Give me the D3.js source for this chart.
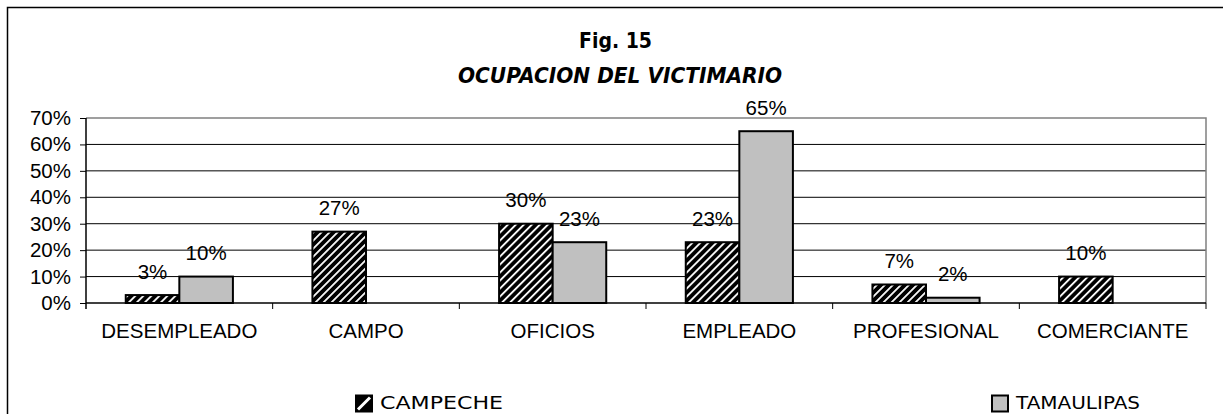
<!DOCTYPE html>
<html><head><meta charset="utf-8">
<script src="https://cdn.jsdelivr.net/npm/d3@7"></script>
<style>body{margin:0;background:#fff}svg{display:block}</style>
</head><body>
<svg id="c" width="1223" height="414"></svg>
<script>
const categories = ["DESEMPLEADO","CAMPO","OFICIOS","EMPLEADO","PROFESIONAL","COMERCIANTE"];
const seriesNames = ["CAMPECHE","TAMAULIPAS"];
const campeche = [0.03,0.27,0.30,0.23,0.07,0.10];
const tamaulipas = [0.10,0,0.23,0.65,0.02,0];
const campecheLabels = ["3%","27%","30%","23%","7%","10%"];
const tamaulipasLabels = ["10%","","23%","65%","2%",""];
const yTicks = [0,0.1,0.2,0.3,0.4,0.5,0.6,0.7];

(function(){
const svg = d3.select("#c");
const pLeft = 86, pRight = 1206, pTop = 118, pBottom = 303;
const labelFont = "'Liberation Sans', Arial, sans-serif";
const comic = "'DejaVu Sans',sans-serif";
const fs = 20.5;

const defs = svg.append("defs");
const pat = defs.append("pattern").attr("id","hatch").attr("patternUnits","userSpaceOnUse")
  .attr("width",5.66).attr("height",5.66).attr("patternTransform","rotate(45)");
pat.append("rect").attr("width",5.66).attr("height",5.66).attr("fill","#000");
pat.append("rect").attr("x",0).attr("width",1.8).attr("height",5.66).attr("fill","#fff");

// outer frame
svg.append("path").attr("d","M7.5,414 L7.5,7.5 L1223,7.5").attr("fill","none").attr("stroke","#000").attr("stroke-width",1.5);

const x0 = d3.scaleBand().domain(categories).range([pLeft,pRight]).padding(0);
const groupW = x0.bandwidth()*0.574;
const x1 = d3.scaleBand().domain(seriesNames).range([0,groupW]).padding(0);
const y = d3.scaleLinear().domain([0,0.7]).range([pBottom,pTop]);

// gridlines
svg.append("g").selectAll("line").data(yTicks.slice(1,-1)).join("line")
  .attr("x1",pLeft).attr("x2",pRight).attr("y1",d=>y(d)).attr("y2",d=>y(d))
  .attr("stroke","#000").attr("stroke-width",1);
// plot border top/right gray
svg.append("path").attr("d",`M${pLeft},${y(0.7)} L${pRight},${y(0.7)} L${pRight},${pBottom}`)
  .attr("fill","none").attr("stroke","#808080").attr("stroke-width",1.5);

// y axis
const yAxis = d3.axisLeft(y).tickValues(yTicks).tickFormat(d3.format(".0%")).tickSize(6).tickPadding(9);
const gy = svg.append("g").attr("transform",`translate(${pLeft},0)`).call(yAxis);
gy.select(".domain").attr("stroke","#000").attr("stroke-width",1.5).attr("d",`M0,${pTop}V${pBottom+6}`);
gy.selectAll(".tick line").attr("stroke","#000");
gy.selectAll("text").attr("font-family",labelFont).attr("font-size",fs).attr("fill","#000");

// bars
const data = categories.map((c,i)=>({c, vals:[{s:"CAMPECHE",v:campeche[i],l:campecheLabels[i]},{s:"TAMAULIPAS",v:tamaulipas[i],l:tamaulipasLabels[i]}]}));
const groups = svg.append("g").selectAll("g").data(data).join("g")
  .attr("transform",d=>`translate(${x0(d.c)+(x0.bandwidth()-groupW)/2},0)`);
groups.selectAll("rect").data(d=>d.vals.filter(v=>v.v>0)).join("rect")
  .attr("x",d=>x1(d.s)).attr("width",x1.bandwidth())
  .attr("y",d=>y(d.v)).attr("height",d=>y(0)-y(d.v))
  .attr("fill",d=>d.s==="CAMPECHE"?"url(#hatch)":"#c0c0c0")
  .attr("stroke","#000").attr("stroke-width",2);
groups.selectAll("text").data(d=>d.vals.filter(v=>v.l)).join("text")
  .attr("x",d=>x1(d.s)+x1.bandwidth()/2).attr("y",d=>y(d.v)-16.5)
  .attr("text-anchor","middle").attr("font-family",labelFont).attr("font-size",fs).text(d=>d.l);

// x axis
const xAxis = d3.axisBottom(x0).tickSize(0).tickPadding(0);
const gx = svg.append("g").attr("transform",`translate(0,${pBottom})`).call(xAxis);
gx.select(".domain").attr("stroke","#000").attr("stroke-width",1.5).attr("d",`M${pLeft},0H${pRight}`);
gx.selectAll("text").attr("font-family",labelFont).attr("font-size",fs).attr("fill","#000").attr("dy",0).attr("y",35);
gx.selectAll(".sep").data(categories).join("line").attr("class","sep")
  .attr("x1",d=>x0(d)+x0.bandwidth()).attr("x2",d=>x0(d)+x0.bandwidth())
  .attr("y1",0).attr("y2",6).attr("stroke","#000").attr("stroke-width",1);

// titles
svg.append("text").attr("x",579).attr("y",48)
  .attr("font-family",comic).attr("font-weight","bold").attr("font-size",21)
  .attr("textLength",73).attr("lengthAdjust","spacingAndGlyphs").text("Fig. 15");
svg.append("text").attr("x",458).attr("y",83)
  .attr("font-family",comic).attr("font-weight","bold").attr("font-style","italic").attr("font-size",21)
  .attr("textLength",324).attr("lengthAdjust","spacingAndGlyphs")
  .text("OCUPACION DEL VICTIMARIO");

// legend
const legX = {CAMPECHE:355, TAMAULIPAS:991};
const legW = {CAMPECHE:123, TAMAULIPAS:124};
const leg = svg.append("g").selectAll("g").data(seriesNames).join("g")
  .attr("transform",d=>`translate(${legX[d]},395)`);
leg.append("rect").attr("x",1).attr("y",0.5).attr("width",16).attr("height",16)
  .attr("fill",d=>d==="CAMPECHE"?"#000":"#c0c0c0").attr("stroke","#000").attr("stroke-width",2);
leg.filter(d=>d==="CAMPECHE").append("line").attr("x1",3).attr("y1",14.5).attr("x2",15).attr("y2",2.5)
  .attr("stroke","#fff").attr("stroke-width",3);
leg.append("text").attr("x",25).attr("y",13.5).attr("font-family",comic).attr("font-size",18.5)
  .attr("textLength",d=>legW[d]).attr("lengthAdjust","spacingAndGlyphs").text(d=>d);
})();
</script>
</body></html>
